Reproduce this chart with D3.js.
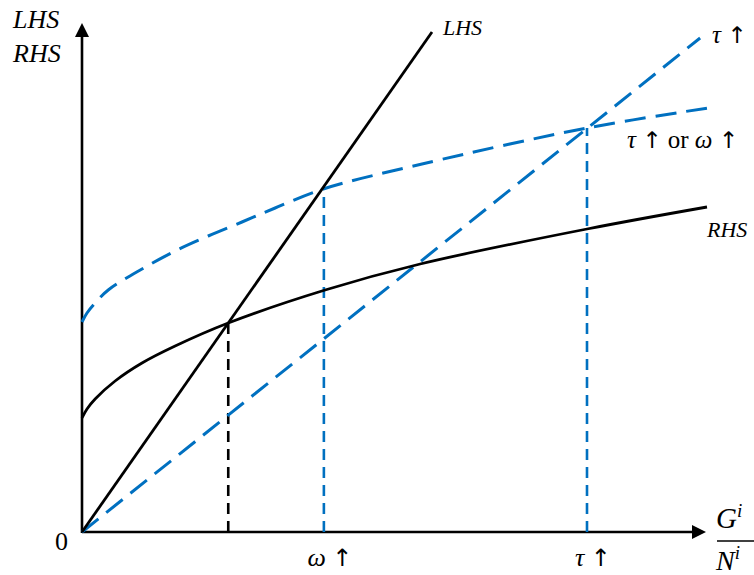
<!DOCTYPE html>
<html>
<head>
<meta charset="utf-8">
<script src="https://cdn.jsdelivr.net/npm/d3@7"></script>
<style>
  body { margin: 0; background: #fff; }
  text { font-family: "Liberation Serif", "DejaVu Serif", serif; fill: #000; }
  .arr { font-family: "DejaVu Sans", sans-serif; font-style: normal; }
</style>
</head>
<body>
<svg id="chart"></svg>
<script>
// values (x, y in chart units)
const lhsX = [0, 5.6];
const lhsY = [0, 10.0];

const lhsShiftX = [0, 9.89];
const lhsShiftY = [0, 9.88];

const rhsX = [0, 0.08, 0.21, 0.53, 0.96, 1.49, 2.34, 3.89, 5.41, 8.08, 10];
const rhsY = [2.28, 2.46, 2.66, 3.02, 3.38, 3.72, 4.18, 4.84, 5.36, 6.06, 6.5];

const rhsShiftX = [0, 0.08, 0.21, 0.42, 0.96, 1.49, 2.02, 2.56, 3.09, 3.86, 5.44, 8.08, 10.02];
const rhsShiftY = [4.2, 4.38, 4.58, 4.84, 5.26, 5.62, 5.92, 6.2, 6.48, 6.86, 7.36, 8.08, 8.48];

// equilibria: x position and height of the crossing
const eqX = [2.34, 3.87, 8.08];
const eqY = [4.18, 6.88, 8.08];
const eqColor = ["#000", "#0070c0", "#0070c0"];

const tickLabels = ["ω", "τ"];
const tickAt = [3.87, 8.08];

let width = 754, height = 575;
let blue = "#0070c0";

let svg = d3.select('#chart')
    .attr('width', width)
    .attr('height', height);

let x = d3.scaleLinear().domain([0, 10]).range([82, 707]);
let y = d3.scaleLinear().domain([0, 10]).range([532, 32]);

let line = d3.line()
    .x(d => x(d[0]))
    .y(d => y(d[1]))
    .curve(d3.curveCatmullRom.alpha(0.5));

// AXES
svg.append('line')
    .attr('x1', x(0)).attr('y1', y(0))
    .attr('x2', 693).attr('y2', y(0))
    .attr('stroke', '#000').attr('stroke-width', 2.6);
svg.append('path')
    .attr('d', `M692,${y(0) - 7}L706,${y(0)}L692,${y(0) + 7}Z`)
    .attr('fill', '#000');

svg.append('line')
    .attr('x1', x(0)).attr('y1', y(0) + 1)
    .attr('x2', x(0)).attr('y2', 36)
    .attr('stroke', '#000').attr('stroke-width', 2.6);
svg.append('path')
    .attr('d', `M${x(0) - 7},37L${x(0)},23L${x(0) + 7},37Z`)
    .attr('fill', '#000');

// VERTICAL DROP LINES
eqX.forEach(function(v, i){
    svg.append('line')
        .attr('x1', x(v)).attr('y1', y(0))
        .attr('x2', x(v)).attr('y2', y(eqY[i]))
        .attr('stroke', eqColor[i])
        .attr('stroke-width', 2.6)
        .attr('stroke-dasharray', '11,7');
});

// CURVES
let zip = (a, b) => a.map((v, i) => [v, b[i]]);

svg.append('path')
    .attr('d', line(zip(rhsShiftX, rhsShiftY)))
    .attr('fill', 'none').attr('stroke', blue)
    .attr('stroke-width', 3).attr('stroke-dasharray', '21,10');

svg.append('path')
    .attr('d', line(zip(lhsShiftX, lhsShiftY)))
    .attr('fill', 'none').attr('stroke', blue)
    .attr('stroke-width', 3).attr('stroke-dasharray', '21,10');

svg.append('path')
    .attr('d', line(zip(rhsX, rhsY)))
    .attr('fill', 'none').attr('stroke', '#000')
    .attr('stroke-width', 2.8);

svg.append('path')
    .attr('d', line(zip(lhsX, lhsY)))
    .attr('fill', 'none').attr('stroke', '#000')
    .attr('stroke-width', 2.8);

// TEXT
function italicText(tx, ty, size, str){
    return svg.append('text')
        .attr('x', tx).attr('y', ty)
        .attr('font-size', size)
        .attr('font-style', 'italic')
        .text(str);
}

italicText(13, 28, 26, "LHS");
italicText(13, 62, 26, "RHS");
italicText(443, 35, 22, "LHS");
italicText(707, 237, 22, "RHS");

// tau up (top right)
let t1 = svg.append('text').attr('x', 712).attr('y', 43).attr('font-size', 25);
t1.append('tspan').attr('font-style', 'italic').text("τ ");
t1.append('tspan').attr('class', 'arr').attr('font-size', 23).text("↑");

// tau up or omega up
let t2 = svg.append('text').attr('x', 627).attr('y', 148).attr('font-size', 25);
t2.append('tspan').attr('font-style', 'italic').text("τ ");
t2.append('tspan').attr('class', 'arr').attr('font-size', 23).text("↑");
t2.append('tspan').text(" or ");
t2.append('tspan').attr('font-style', 'italic').text("ω ");
t2.append('tspan').attr('class', 'arr').attr('font-size', 23).text("↑");

// origin
svg.append('text')
    .attr('x', 55).attr('y', 550)
    .attr('font-size', 26)
    .text("0");

// x tick labels
tickLabels.forEach(function(lab, i){
    let t = svg.append('text')
        .attr('x', x(tickAt[i]) + 6)
        .attr('y', 566)
        .attr('text-anchor', 'middle')
        .attr('font-size', 26);
    t.append('tspan').attr('font-style', 'italic').text(lab + " ");
    t.append('tspan').attr('class', 'arr').attr('font-size', 24).text("↑");
});

// G^i / N^i
let g = svg.append('text').attr('x', 716).attr('y', 528).attr('font-size', 29).attr('font-style', 'italic');
g.append('tspan').text("G");
g.append('tspan').attr('font-size', 19).attr('dy', -11).text("i");
svg.append('line')
    .attr('x1', 717).attr('x2', 754)
    .attr('y1', 541).attr('y2', 541)
    .attr('stroke', '#000').attr('stroke-width', 1.5);
let n = svg.append('text').attr('x', 716).attr('y', 570).attr('font-size', 28).attr('font-style', 'italic');
n.append('tspan').text("N");
n.append('tspan').attr('font-size', 19).attr('dy', -11).text("i");
</script>
</body>
</html>
